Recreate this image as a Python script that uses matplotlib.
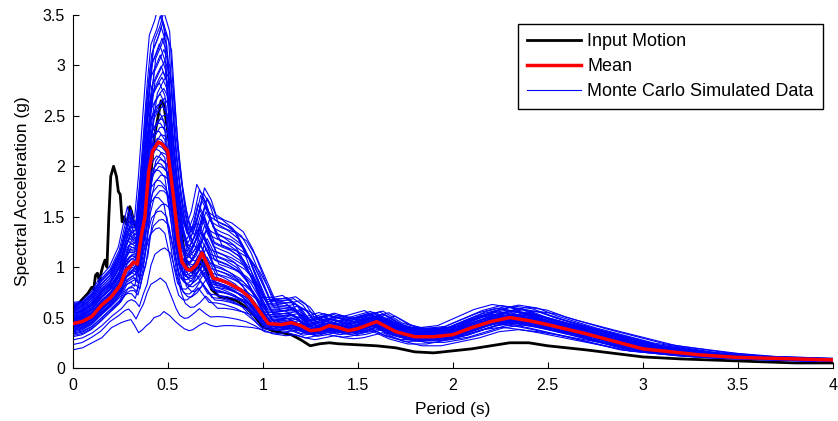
import numpy as np
import matplotlib
matplotlib.use("Agg")
import matplotlib.pyplot as plt
from matplotlib.lines import Line2D

plt.rcParams['font.family'] = ['Liberation Sans', 'DejaVu Sans']

# ---- Data ----
input_T = [0, 0.02, 0.04, 0.06, 0.08, 0.1, 0.11, 0.12, 0.13, 0.14, 0.15, 0.16, 0.17, 0.18,
           0.19, 0.2, 0.215, 0.23, 0.24, 0.25, 0.26, 0.27, 0.28, 0.29, 0.3, 0.31, 0.32, 0.34,
           0.36, 0.4, 0.43, 0.465, 0.48, 0.5, 0.55, 0.6, 0.63, 0.66, 0.68, 0.7, 0.73, 0.77,
           0.82, 0.86, 0.9, 0.95, 1.0, 1.05, 1.1, 1.15, 1.2, 1.25, 1.3, 1.35, 1.4, 1.5, 1.6,
           1.7, 1.8, 1.9, 2.0, 2.1, 2.2, 2.3, 2.4, 2.5, 2.7, 3.0, 3.2, 3.5, 3.8, 4.0]
input_sa = [0.58, 0.62, 0.66, 0.7, 0.74, 0.8, 0.78, 0.92, 0.94, 0.86, 0.95, 1.02, 1.07, 1.0,
            1.5, 1.9, 2.0, 1.9, 1.75, 1.72, 1.45, 1.5, 1.43, 1.45, 1.6, 1.55, 1.45, 1.35,
            1.3, 1.7, 2.3, 2.65, 2.6, 2.35, 1.6, 1.0, 0.95, 1.0, 1.07, 1.0, 0.78, 0.71,
            0.69, 0.67, 0.62, 0.53, 0.41, 0.37, 0.35, 0.33, 0.28, 0.22, 0.24, 0.25, 0.24, 0.23, 0.22,
            0.2, 0.16, 0.15, 0.17, 0.19, 0.22, 0.25, 0.25, 0.22, 0.18, 0.11, 0.09, 0.07, 0.05, 0.05]

period = [0, 0.05, 0.1, 0.15, 0.2, 0.25, 0.28, 0.3, 0.32, 0.34, 0.36, 0.38, 0.4, 0.42, 0.45,
          0.47, 0.5, 0.53, 0.555, 0.575, 0.6, 0.62, 0.65, 0.68, 0.715, 0.74, 0.78, 0.82, 0.88,
          0.93, 0.98, 1.03, 1.1, 1.15, 1.2, 1.25, 1.3, 1.35, 1.4, 1.45, 1.5, 1.6, 1.7, 1.8,
          1.9, 2.0, 2.1, 2.2, 2.3, 2.4, 2.5, 2.7, 3.0, 3.3, 3.5, 3.8, 4.0]
mean_sa = [0.44, 0.46, 0.51, 0.62, 0.7, 0.82, 0.97, 1.0, 1.05, 1.03, 1.3, 1.5, 1.95, 2.15, 2.24,
           2.22, 2.15, 1.7, 1.27, 1.05, 0.98, 0.97, 1.02, 1.14, 1.0, 0.89, 0.87, 0.84, 0.78,
           0.7, 0.57, 0.44, 0.43, 0.45, 0.42, 0.37, 0.38, 0.42, 0.4, 0.37, 0.39, 0.46, 0.36, 0.31,
           0.31, 0.33, 0.4, 0.46, 0.5, 0.47, 0.43, 0.34, 0.19, 0.13, 0.105, 0.09, 0.08]
high_sa = [0.65, 0.66, 0.75, 0.9, 1.0, 1.2, 1.45, 1.6, 1.45, 1.5, 1.9, 2.4, 2.9, 3.3, 3.45,
           3.6, 3.4, 2.4, 1.95, 1.7, 1.45, 1.4, 1.55, 1.82, 1.7, 1.55, 1.5, 1.47, 1.38,
           1.2, 0.95, 0.7, 0.7, 0.72, 0.65, 0.5, 0.52, 0.55, 0.52, 0.5, 0.52, 0.57, 0.45, 0.4,
           0.4, 0.42, 0.5, 0.58, 0.63, 0.6, 0.52, 0.4, 0.25, 0.16, 0.12, 0.1, 0.08]
low_sa = [0.18, 0.2, 0.25, 0.3, 0.4, 0.45, 0.47, 0.48, 0.42, 0.35, 0.38, 0.42, 0.45, 0.5, 0.52,
          0.56, 0.52, 0.46, 0.42, 0.39, 0.37, 0.38, 0.42, 0.45, 0.42, 0.41, 0.42, 0.42, 0.41,
          0.4, 0.38, 0.34, 0.32, 0.33, 0.3, 0.28, 0.3, 0.32, 0.3, 0.29, 0.3, 0.35, 0.27, 0.22,
          0.22, 0.26, 0.3, 0.36, 0.38, 0.36, 0.33, 0.26, 0.16, 0.11, 0.09, 0.07, 0.06]

# blend weight of each simulated curve (negative -> toward low, positive -> toward high)
sim_weight = [-1.0, -0.8, -0.62, -0.5, -0.45, -0.4, -0.36, -0.32, -0.28, -0.25,
              -0.22, -0.19, -0.16, -0.14, -0.12, -0.1, -0.08, -0.06, -0.04, -0.02,
              0.0, 0.03, 0.06, 0.09, 0.12, 0.15, 0.18, 0.21, 0.24, 0.27,
              0.3, 0.33, 0.36, 0.4, 0.44, 0.48, 0.52, 0.56, 0.6, 0.64,
              0.68, 0.72, 0.76, 0.8, 0.84, 0.88, 0.92, 0.95, 1.0, 0.5]
# period stretch of each simulated curve
sim_stretch = [1.02, 0.98, 1.03, 0.97, 1.01, 0.99, 1.04, 0.96, 1.02, 1.0,
               0.98, 1.03, 0.97, 1.01, 0.99, 1.02, 0.98, 1.04, 0.97, 1.0,
               1.01, 0.99, 1.03, 0.97, 1.02, 0.98, 1.0, 1.04, 0.96, 1.01,
               0.99, 1.03, 0.98, 1.02, 0.97, 1.0, 1.01, 0.99, 1.03, 0.98,
               1.02, 0.97, 1.0, 1.04, 0.99, 1.01, 0.98, 1.02, 0.96, 1.06]

x_ticks = [0, 0.5, 1, 1.5, 2, 2.5, 3, 3.5, 4]
x_ticklabels = ['0', '0.5', '1', '1.5', '2', '2.5', '3', '3.5', '4']
y_ticks = [0, 0.5, 1, 1.5, 2, 2.5, 3, 3.5]
y_ticklabels = ['0', '0.5', '1', '1.5', '2', '2.5', '3', '3.5']

# ---- Figure ----
fig = plt.figure(figsize=(8.38, 4.21), dpi=100)
ax = fig.add_axes([0.0868, 0.1259, 0.9069, 0.8385])

T = np.array(period)
m = np.array(mean_sa)
hi = np.array(high_sa)
lo = np.array(low_sa)
for w, s in zip(sim_weight, sim_stretch):
    curve = m + w * (hi - m) if w >= 0 else m + (-w) * (lo - m)
    ax.plot(T * s, curve, color=(0, 0, 1), lw=0.8, zorder=2)

ax.plot(input_T, input_sa, color='black', lw=2.0, zorder=1)
ax.plot(period, mean_sa, color=(1, 0, 0), lw=2.5, zorder=3)

ax.set_xlim(0, 4)
ax.set_ylim(0, 3.5)
ax.set_xticks(x_ticks)
ax.set_xticklabels(x_ticklabels)
ax.set_yticks(y_ticks)
ax.set_yticklabels(y_ticklabels)
ax.tick_params(direction='in', length=4, width=0.8, labelsize=11.5)
ax.tick_params(axis='x', pad=7)
ax.tick_params(axis='y', pad=5.5)
for sp in ['top', 'right']:
    ax.spines[sp].set_visible(False)
ax.set_xlabel('Period (s)', fontsize=12.5, labelpad=7)
ax.set_ylabel('Spectral Acceleration (g)', fontsize=12.5, labelpad=9)

handles = [Line2D([], [], color='black', lw=2.0),
           Line2D([], [], color='red', lw=2.5),
           Line2D([], [], color='blue', lw=0.8)]
leg = ax.legend(handles, ['Input Motion', 'Mean', 'Monte Carlo Simulated Data'],
                loc='upper right', bbox_to_anchor=(0.987, 0.9745), borderaxespad=0,
                fontsize=13, fancybox=False, framealpha=1, edgecolor='black',
                handlelength=3.0, labelspacing=0.45, handletextpad=0.35, borderpad=0.5)
leg.get_frame().set_linewidth(1.0)

fig.savefig('out.png', dpi=100)
